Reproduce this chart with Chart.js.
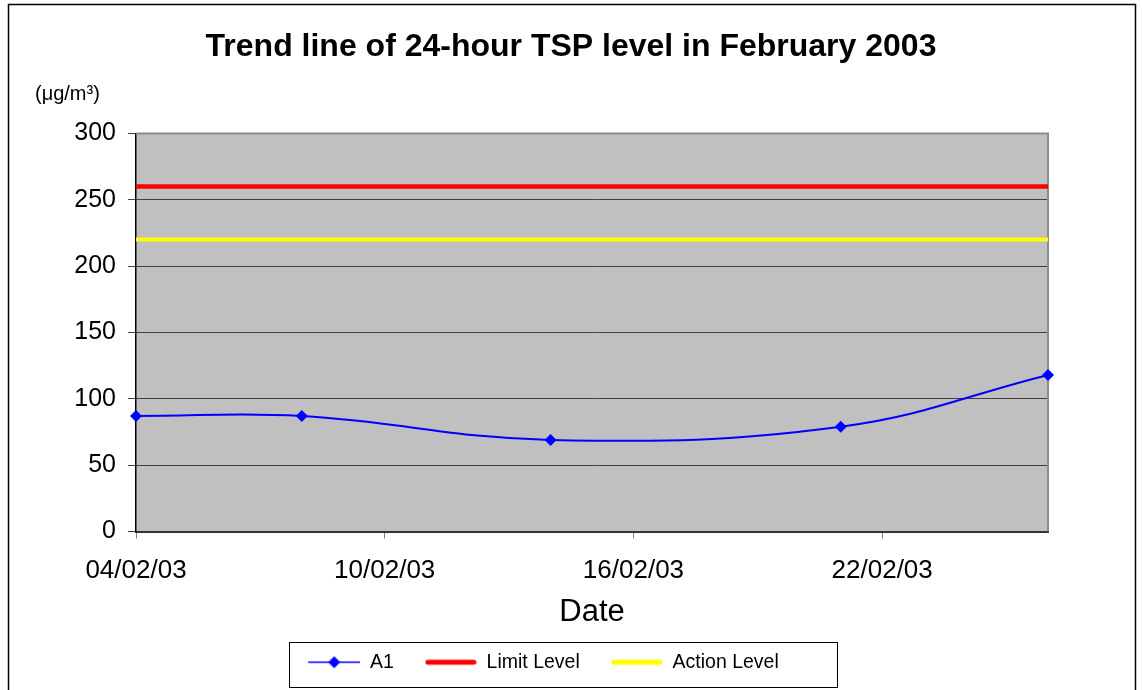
<!DOCTYPE html>
<html>
<head>
<meta charset="utf-8">
<title>Trend line of 24-hour TSP level in February 2003</title>
<script src="https://cdn.jsdelivr.net/npm/chart.js@4.4.1/dist/chart.umd.min.js"></script>
<style>
  html, body { margin: 0; padding: 0; background: #fff; }
  #wrap { width: 1142px; height: 690px; }
</style>
</head>
<body>
<div id="wrap"><canvas id="tspChart"></canvas></div>
<script>
// Sampling days (day of February 2003) and 24-hour TSP at A1 (ug/m3)
const sampleDays = [4, 8, 14, 21, 26];
const a1Values = [87, 87, 69, 79, 118];

// Limit / Action levels span the whole axis window
const levelDays = [4, 26];
const limitValues = [260, 260];
const actionValues = [220, 220];

// Axis ticks
const xTickDays = [4, 10, 16, 22];
const xTickLabels = ['04/02/03', '10/02/03', '16/02/03', '22/02/03'];
const yTicks = [0, 50, 100, 150, 200, 250, 300];

const FONT = "'Liberation Sans', Arial, sans-serif";
Chart.defaults.font.family = FONT;

const toPoints = (xs, ys) => xs.map((x, i) => ({ x: x, y: ys[i] }));

// Legend symbols: blank left margin then the line (and diamond for A1)
function legendSymbol(color, width, diamond) {
    const c = document.createElement('canvas');
    c.width = 75;
    c.height = 16;
    const g = c.getContext('2d');
    g.strokeStyle = color;
    g.lineWidth = width;
    g.lineCap = diamond ? 'butt' : 'round';
    g.beginPath();
    g.moveTo(diamond ? 23 : 26, 8);
    g.lineTo(diamond ? 75 : 72, 8);
    g.stroke();
    if (diamond) {
        g.fillStyle = color;
        g.beginPath();
        g.moveTo(49, 2);
        g.lineTo(55, 8);
        g.lineTo(49, 14);
        g.lineTo(43, 8);
        g.closePath();
        g.fill();
    }
    return c;
}
const symbols = [
    legendSymbol('#0000ff', 1.5, true),
    legendSymbol('#ff0000', 5, false),
    legendSymbol('#ffff00', 5, false)
];

const decor = {
    id: 'decor',
    afterLayout(chart) {
        // the legend sits a little left of the canvas centre
        if (chart.legend) {
            chart.legend.left -= 39;
            chart.legend.right -= 39;
        }
    },
    beforeDraw(chart) {
        const { ctx, chartArea: a } = chart;
        ctx.save();
        ctx.fillStyle = '#c0c0c0';
        ctx.fillRect(a.left, a.top, a.right - a.left, a.bottom - a.top);
        ctx.restore();
    },
    beforeDatasetsDraw(chart) {
        // grey top / right edge of the plot area
        const { ctx, chartArea: a } = chart;
        ctx.save();
        ctx.strokeStyle = '#8c8c8c';
        ctx.lineWidth = 2;
        ctx.beginPath();
        ctx.moveTo(a.left, a.top);
        ctx.lineTo(a.right, a.top);
        ctx.lineTo(a.right, a.bottom);
        ctx.stroke();
        ctx.restore();
    },
    afterDraw(chart) {
        const ctx = chart.ctx;
        ctx.save();
        // outer frame
        ctx.strokeStyle = '#000';
        ctx.lineWidth = 1.5;
        ctx.beginPath();
        ctx.moveTo(8.5, 690);
        ctx.lineTo(8.5, 4.5);
        ctx.lineTo(1135.5, 4.5);
        ctx.lineTo(1135.5, 690);
        ctx.stroke();

        // unit label
        ctx.fillStyle = '#000';
        ctx.font = '20px ' + FONT;
        ctx.textBaseline = 'alphabetic';
        ctx.textAlign = 'left';
        ctx.fillText('(\u03bcg/m\u00b3)', 35, 100);

        // legend box
        const boxes = chart.legend.legendHitBoxes;
        if (boxes && boxes.length) {
            const first = boxes[0];
            const last = boxes[boxes.length - 1];
            const x0 = first.left + 23 - 19;
            const x1 = last.left + last.width + 58;
            const y0 = first.top - 11;
            const y1 = first.top + first.height + 14;
            ctx.strokeStyle = '#000';
            ctx.lineWidth = 1;
            ctx.strokeRect(Math.round(x0) + 0.5, Math.round(y0) + 0.5, Math.round(x1 - x0), Math.round(y1 - y0));
        }
        ctx.restore();
    }
};

const ctx = document.getElementById('tspChart').getContext('2d');
new Chart(ctx, {
    type: 'line',
    data: {
        datasets: [
            {
                label: 'A1',
                data: toPoints(sampleDays, a1Values),
                borderColor: '#0000ff',
                backgroundColor: '#0000ff',
                borderWidth: 2,
                pointStyle: 'rectRot',
                pointRadius: 6,
                pointBorderWidth: 0,
                pointBackgroundColor: '#0000ff',
                tension: 0.4,
                clip: false
            },
            {
                label: 'Limit Level',
                data: toPoints(levelDays, limitValues),
                borderColor: '#ff0000',
                backgroundColor: '#ff0000',
                borderWidth: 4.5,
                pointRadius: 0
            },
            {
                label: 'Action Level',
                data: toPoints(levelDays, actionValues),
                borderColor: '#ffff00',
                backgroundColor: '#ffff00',
                borderWidth: 4,
                pointRadius: 0
            }
        ]
    },
    options: {
        responsive: true,
        maintainAspectRatio: false,
        animation: false,
        events: [],
        layout: { padding: { top: 0, left: 0, right: 0, bottom: 8 } },
        plugins: {
            title: {
                display: true,
                text: 'Trend line of 24-hour TSP level in February 2003',
                color: '#000',
                font: { size: 32, weight: 'bold' },
                padding: { top: 28, bottom: 67 }
            },
            legend: {
                position: 'bottom',
                labels: {
                    usePointStyle: true,
                    pointStyleWidth: 75,
                    boxHeight: 19,
                    padding: 8,
                    color: '#000',
                    font: { size: 19.5 },
                    generateLabels: (chart) => {
                        const items = Chart.defaults.plugins.legend.labels.generateLabels(chart);
                        items.forEach((it, i) => { it.pointStyle = symbols[i]; });
                        return items;
                    }
                }
            },
            tooltip: { enabled: false }
        },
        scales: {
            x: {
                type: 'linear',
                min: 4,
                max: 26,
                afterBuildTicks: (s) => { s.ticks = xTickDays.map(v => ({ value: v })); },
                ticks: {
                    callback: (v, i) => xTickLabels[i],
                    color: '#000',
                    font: { size: 26 },
                    padding: 17,
                    maxRotation: 0,
                    autoSkip: false
                },
                grid: { drawOnChartArea: false, color: '#808080', tickLength: 7 },
                border: { color: '#333', width: 2 },
                title: {
                    display: true,
                    text: 'Date',
                    color: '#000',
                    font: { size: 31 },
                    padding: { top: 0, bottom: 13 }
                },
                afterFit: (s) => { s.height = 113; }
            },
            y: {
                min: 0,
                max: 300,
                afterBuildTicks: (s) => { s.ticks = yTicks.map(v => ({ value: v })); },
                ticks: { color: '#000', font: { size: 25 }, padding: 12 },
                grid: { color: '#404040', lineWidth: 1, tickLength: 8 },
                border: { color: '#000', width: 1.5 },
                afterFit: (s) => { s.width = 136; }
            },
            yPad: {
                position: 'right',
                display: true,
                ticks: { display: false },
                grid: { display: false },
                border: { display: false },
                afterFit: (s) => { s.width = 94; }
            }
        }
    },
    plugins: [decor]
});
</script>
</body>
</html>
